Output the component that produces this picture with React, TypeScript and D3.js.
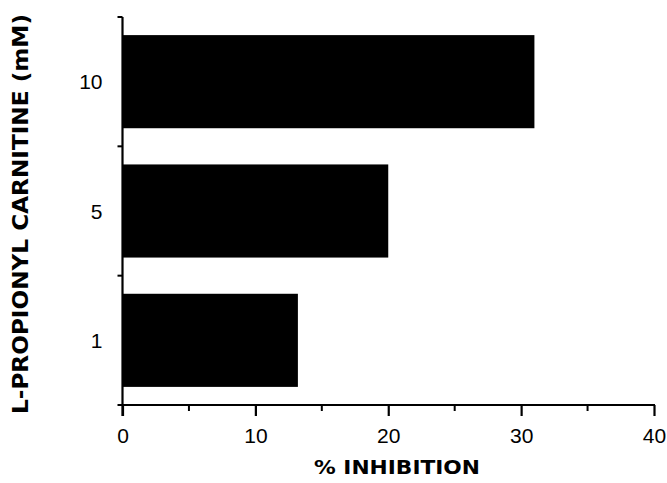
import { useEffect, useRef } from "react";
import * as d3 from "d3";

// dose (mM) top to bottom, % inhibition
const doses = ["10", "5", "1"];
const inhibition = [31, 20, 13.2];
const xTicks = [0, 10, 20, 30, 40];
const xMinorTicks = [5, 15, 25, 35];
const xTitle = "%  INHIBITION";
const yTitle = "L-PROPIONYL CARNITINE (mM)";

const WIDTH = 667;
const HEIGHT = 483;

export default function App() {
  const svgRef = useRef<SVGSVGElement>(null);

  useEffect(() => {
    const svg = d3.select(svgRef.current);
    svg.selectAll("*").remove();

    const margin = { top: 17, right: 13, bottom: 78, left: 122.5 };

    const x = d3
      .scaleLinear()
      .domain([0, 40])
      .range([margin.left, WIDTH - margin.right]);

    const y = d3
      .scaleBand<string>()
      .domain(doses)
      .range([margin.top, HEIGHT - margin.bottom])
      .paddingInner(0.28)
      .paddingOuter(0.14);

    const baseY = HEIGHT - margin.bottom;

    // bars
    svg
      .append("g")
      .selectAll("rect")
      .data(doses.map((d, i) => ({ dose: d, value: inhibition[i] })))
      .join("rect")
      .attr("x", x(0))
      .attr("y", (d) => y(d.dose)!)
      .attr("width", (d) => x(d.value) - x(0))
      .attr("height", y.bandwidth())
      .attr("fill", "#000");

    // x axis
    const xAxis = svg
      .append("g")
      .attr("transform", `translate(0,${baseY})`)
      .call(
        d3
          .axisBottom(x)
          .tickValues(xTicks)
          .tickSize(11)
          .tickSizeOuter(0)
          .tickPadding(12)
          .tickFormat(d3.format("d"))
      );
    xAxis.select(".domain").remove();
    xAxis.selectAll("line").attr("stroke", "#000").attr("stroke-width", 2.2);
    xAxis
      .selectAll("text")
      .attr("fill", "#000")
      .style("font-family", "'Liberation Sans', Arial, sans-serif")
      .style("font-size", "21px");

    svg
      .append("g")
      .selectAll("line")
      .data(xMinorTicks)
      .join("line")
      .attr("x1", (d) => x(d))
      .attr("x2", (d) => x(d))
      .attr("y1", baseY)
      .attr("y2", baseY + 6)
      .attr("stroke", "#000")
      .attr("stroke-width", 2);

    svg
      .append("line")
      .attr("x1", x(0) - 5)
      .attr("x2", x(40) + 1)
      .attr("y1", baseY)
      .attr("y2", baseY)
      .attr("stroke", "#000")
      .attr("stroke-width", 2);

    // y axis
    svg
      .append("line")
      .attr("x1", x(0))
      .attr("x2", x(0))
      .attr("y1", margin.top)
      .attr("y2", baseY + 11)
      .attr("stroke", "#000")
      .attr("stroke-width", 2.2);

    const gap = y.step() * y.paddingInner();
    const bandEdges = [margin.top, ...doses.slice(1).map((d) => y(d)! - gap / 2)];
    svg
      .append("g")
      .selectAll("line")
      .data(bandEdges)
      .join("line")
      .attr("x1", x(0) - 5)
      .attr("x2", x(0))
      .attr("y1", (d) => d)
      .attr("y2", (d) => d)
      .attr("stroke", "#000")
      .attr("stroke-width", 2);

    svg
      .append("g")
      .selectAll("text")
      .data(doses)
      .join("text")
      .attr("x", x(0) - 20)
      .attr("y", (d) => y(d)! + y.bandwidth() / 2)
      .attr("dy", "0.36em")
      .attr("text-anchor", "end")
      .style("font-family", "'Liberation Sans', Arial, sans-serif")
      .style("font-size", "21px")
      .text((d) => d);

    // titles
    svg
      .append("text")
      .attr("x", 397)
      .attr("y", 474)
      .attr("text-anchor", "middle")
      .attr("textLength", 166)
      .attr("lengthAdjust", "spacingAndGlyphs")
      .style("font-family", "'DejaVu Sans', sans-serif")
      .style("font-weight", "bold")
      .style("font-size", "19px")
      .text(xTitle);

    svg
      .append("text")
      .attr("transform", `translate(28,${214}) rotate(-90)`)
      .attr("text-anchor", "middle")
      .attr("textLength", 400)
      .attr("lengthAdjust", "spacingAndGlyphs")
      .style("font-family", "'DejaVu Sans', sans-serif")
      .style("font-weight", "bold")
      .style("font-size", "21px")
      .text(yTitle);
  }, []);

  return (
    <svg
      ref={svgRef}
      width={WIDTH}
      height={HEIGHT}
      style={{ position: "absolute", left: 0, top: 0, background: "#fff" }}
    />
  );
}
